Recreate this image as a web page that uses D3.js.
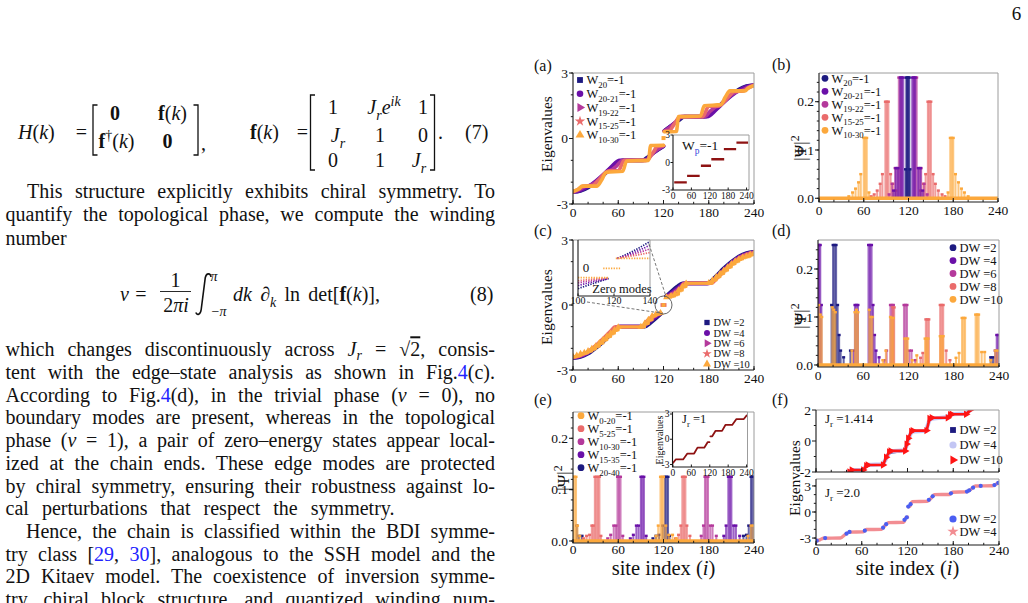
<!DOCTYPE html>
<html><head><meta charset="utf-8">
<script src="https://cdn.jsdelivr.net/npm/d3@7/dist/d3.min.js"></script>
<style>
body{margin:0;background:#fff;}
svg{display:block;}
text{font-family:"Liberation Serif","Times New Roman",serif;fill:#111;}
</style></head><body>
<svg id="c" width="1028" height="603"></svg>
<script>
// ================= DATA =================
const xTicks = [0, 60, 120, 180, 240];
const eigTicks = [-3, 0, 3];
const psiTicks = [0, 0.1, 0.2];
const fTopTicks = [-2, 0, 2];
const insetCTicks = [100, 120, 140];
const legW = ["20", "20-21", "19-22", "15-25", "10-30"];
const legDW = ["2", "4", "6", "8", "10"];
const legWE = ["0-20", "5-25", "10-30", "15-35", "20-40"];
const legFTop = ["2", "4", "10"];
const legFBot = ["2", "4"];

// (a) eigenvalues vs site index
const aW20 = [[0,-2.45],[10,-2.4],[20,-2.25],[30,-2.0],[40,-1.7],[50,-1.36],[60,-1.06],[66,-1.0],[92,-1.0],[100,-0.82],[110,-0.58],[120,-0.36],null,[121,0.36],[130,0.58],[140,0.82],[148,1.0],[174,1.0],[180,1.06],[190,1.36],[200,1.7],[210,2.0],[220,2.25],[230,2.4],[240,2.45]];
const aW2021 = [[0,-2.45],[10,-2.38],[20,-2.2],[30,-1.95],[40,-1.65],[50,-1.32],[62,-1.0],[94,-1.0],[102,-0.8],[111,-0.55],[120,-0.35],null,[121,0.35],[129,0.55],[138,0.8],[146,1.0],[178,1.0],[190,1.32],[200,1.65],[210,1.95],[220,2.2],[230,2.38],[240,2.45]];
const aW1922 = [[0,-2.45],[8,-2.35],[16,-2.2],[22,-2.15],[28,-2.05],[38,-1.75],[46,-1.5],[52,-1.42],[58,-1.25],[66,-1.0],[96,-1.0],[104,-0.75],[112,-0.5],[120,-0.33],null,[121,0.33],[128,0.5],[136,0.75],[144,1.0],[174,1.0],[182,1.25],[188,1.42],[194,1.5],[202,1.75],[212,2.05],[218,2.15],[224,2.2],[232,2.35],[240,2.45]];
const aW1525 = [[0,-2.44],[8,-2.3],[14,-2.18],[26,-2.15],[34,-1.9],[42,-1.6],[48,-1.48],[60,-1.48],[68,-1.0],[98,-1.0],[106,-0.65],[112,-0.36],[120,-0.33],null,[121,0.33],[128,0.36],[134,0.65],[142,1.0],[172,1.0],[180,1.48],[192,1.48],[198,1.6],[206,1.9],[214,2.15],[226,2.18],[232,2.3],[240,2.44]];
const aW1030 = [[0,-2.42],[8,-2.3],[12,-2.18],[32,-2.18],[38,-1.9],[44,-1.55],[66,-1.5],[71,-1.03],[100,-1.0],[103,-0.32],[120,-0.31],null,[121,0.31],[137,0.32],[140,1.0],[169,1.03],[174,1.5],[196,1.55],[202,1.9],[208,2.18],[228,2.18],[232,2.3],[240,2.42]];
const aZero = [[120, 0.02]];
const aInset = [[4,-2.17],[45,-2.17],null,[46,-1.46],[87,-1.46],null,[91,-0.35],[124,-0.35],null,[125,0.35],[167,0.35],null,[166,1.46],[206,1.46],null,[207,2.17],[245,2.17]];

// (b) |psi|^2
const bW20 = [[116,0.06],[117,0.25],[118,0.25],[119,0.25],[120,0.25],[121,0.25],[122,0.06]];
const bW2021 = [[100,0.016],[103,0.0625],[106,0.0625],[109,0.25],[111,0.25],[113,0.25],[125,0.25],[127,0.25],[129,0.25],[133,0.0625],[136,0.0625],[139,0.016]];
const bW1922 = [[94,0.008],[98,0.03],[102,0.0625],[105,0.0625],[107,0.25],[109,0.25],[111,0.25],[127,0.25],[129,0.25],[131,0.25],[134,0.0625],[137,0.0625],[141,0.03],[145,0.008]];
const bW1525 = [[70,0.004],[74,0.008],[78,0.016],[82,0.03],[85,0.05],[89,0.2],[91,0.2],[93,0.2],[96,0.05],[99,0.03],[103,0.016],[136,0.016],[140,0.03],[143,0.05],[146,0.2],[148,0.2],[150,0.2],[153,0.05],[156,0.03],[160,0.016],[165,0.008],[169,0.004]];
const bW1030 = [[40,0.004],[45,0.012],[49,0.02],[53,0.033],[56,0.05],[60,0.125],[62,0.125],[64,0.125],[67,0.012],[173,0.012],[176,0.125],[178,0.125],[180,0.125],[183,0.05],[187,0.033],[191,0.02],[195,0.012],[200,0.004]];
const zeroLine = [[0,0],[240,0]];

// (c) eigenvalues for domain-wall widths
const cDW2 = [[0,-2.45],[10,-2.4],[20,-2.25],[30,-2.0],[40,-1.7],[50,-1.35],[58,-1.08],[62,-1.0],[95,-1.0],[102,-0.85],[110,-0.62],[117,-0.4],null,[123,0.4],[130,0.62],[138,0.85],[145,1.0],[178,1.0],[182,1.08],[190,1.35],[200,1.7],[210,2.0],[220,2.25],[230,2.4],[240,2.45]];
const cDW4 = [[0,-2.44],[10,-2.37],[20,-2.21],[30,-1.96],[40,-1.65],[50,-1.3],[58,-1.04],[61,-1.0],[93,-1.0],[100,-0.82],[108,-0.6],[116,-0.4],null,[124,0.4],[132,0.6],[140,0.82],[147,1.0],[179,1.0],[182,1.04],[190,1.3],[200,1.65],[210,1.96],[220,2.21],[230,2.37],[240,2.44]];
const cDW6 = [[0,-2.43],[10,-2.35],[20,-2.18],[30,-1.92],[40,-1.6],[50,-1.25],[57,-1.02],[60,-1.0],[92,-1.0],[99,-0.78],[107,-0.56],[115,-0.39],null,[125,0.39],[133,0.56],[141,0.78],[148,1.0],[180,1.0],[183,1.02],[190,1.25],[200,1.6],[210,1.92],[220,2.18],[230,2.35],[240,2.43]];
const cDW8 = [[0,-2.41],[10,-2.32],[20,-2.15],[30,-1.88],[40,-1.55],[50,-1.2],[56,-1.01],[92,-1.0],[98,-0.74],[106,-0.52],[115,-0.38],null,[125,0.38],[134,0.52],[142,0.74],[148,1.0],[184,1.01],[190,1.2],[200,1.55],[210,1.88],[220,2.15],[230,2.32],[240,2.41]];
const cDW10 = [[0,-2.38],[5,-2.33],[10,-2.25],[15,-2.2],[20,-2.12],[25,-2.02],[30,-1.9],[35,-1.75],[40,-1.6],[45,-1.45],[50,-1.3],[55,-1.15],[60,-1.02],[90,-1.0],[95,-0.85],[100,-0.68],[105,-0.5],[110,-0.42],[116,-0.36],null,[124,0.36],[130,0.42],[135,0.5],[140,0.68],[145,0.85],[150,1.0],[180,1.02],[185,1.15],[190,1.3],[195,1.45],[200,1.6],[205,1.75],[210,1.9],[215,2.02],[220,2.12],[225,2.2],[230,2.25],[235,2.33],[240,2.38]];
const cZero = [[118.5,0],[120,0],[121.5,0]];
const ciDW2 = [[100,-0.66],[108,-0.5],[117,-0.33],null,[122,0.33],[131,0.58],[140,0.88]];
const ciDW4 = [[100,-0.56],[108,-0.44],[117,-0.33],null,[122,0.33],[131,0.52],[140,0.76]];
const ciDW6 = [[100,-0.47],[108,-0.39],[117,-0.32],null,[122,0.33],[131,0.47],[140,0.64]];
const ciDW8 = [[100,-0.4],[108,-0.35],[117,-0.31],null,[122,0.33],[131,0.42],[140,0.52]];
const ciDW10 = [[100,-0.3],[117,-0.3],null,[114,0],[124,0],null,[121,0.33],[140,0.33]];

// (d) |psi|^2 for domain walls
const dDW2 = [[18,0.125],[20,0.25],[22,0.25],[24,0.25],[26,0.125],[28,0.0625],[30,0.03],[34,0.016],[43,0.03],[229,0.016],[232,0.016]];
const dDW4 = [[0,0.25],[1.5,0.25],[3,0.25],[4.5,0.125],[47,0.03],[49,0.125],[51,0.125],[53,0.125],[67,0.25],[69,0.25],[71,0.25],[73,0.125],[75,0.0625],[77,0.03],[81,0.016],[235,0.03],[237,0.0625],[239,0.0625]];
const dDW6 = [[88,0.01],[91,0.03],[96,0.125],[98,0.125],[100,0.125],[114,0.125],[116,0.125],[118,0.125],[121,0.03],[124,0.03],[129,0.01]];
const dDW8 = [[99,0.12],[101,0.12],[136,0.015],[139,0.025],[143,0.095],[145,0.095],[147,0.095],[162,0.125],[164,0.125],[166,0.125],[170,0.03],[175,0.01]];
const dDW10 = [[1,0.125],[3,0.105],[5,0.1],[19,0.12],[21,0.115],[23,0.11],[45,0.03],[49,0.11],[51,0.115],[53,0.11],[68,0.115],[70,0.1],[72,0.1],[86,0.01],[90,0.03],[96,0.1],[98,0.098],[100,0.098],[115,0.055],[117,0.055],[119,0.055],[125,0.01],[131,0.02],[142,0.055],[144,0.055],[146,0.055],[162,0.06],[164,0.06],[166,0.06],[183,0.015],[187,0.025],[191,0.098],[193,0.098],[195,0.098],[209,0.105],[211,0.105],[213,0.105],[217,0.027],[221,0.027],[229,0.01],[235,0.03],[238,0.03]];

// (e) |psi|^2 for shifted windows, inset eigenvalues for Jr = 1
const eW020 = [[0,0.125],[2,0.125],[4,0.125],[6,0.03],[9,0.01],[110,0.01],[113,0.03],[116,0.125],[118,0.125],[120,0.125],[123,0.03],[127,0.012],[132,0.012],[137,0.005],[232,0.01],[236,0.03],[239,0.03]];
const eW525 = [[14,0.005],[18,0.01],[22,0.012],[25,0.03],[27,0.03],[29,0.125],[31,0.125],[33,0.125],[35,0.125],[37,0.01],[136,0.005],[140,0.012],[143,0.03],[145,0.125],[147,0.125],[149,0.125],[151,0.03],[155,0.01]];
const eW1030 = [[46,0.005],[50,0.012],[54,0.03],[57,0.03],[59,0.125],[61,0.125],[63,0.125],[66,0.01],[170,0.01],[173,0.03],[175,0.125],[177,0.125],[179,0.125],[182,0.03],[185,0.03],[190,0.01]];
const eW1535 = [[76,0.005],[80,0.012],[84,0.03],[87,0.03],[90,0.125],[92,0.125],[94,0.125],[97,0.01],[200,0.01],[203,0.03],[206,0.125],[208,0.125],[210,0.125],[213,0.03],[216,0.03],[221,0.01]];
const eW2040 = [[5,0.03],[8,0.01],[12,0.01],[106,0.005],[110,0.01],[114,0.012],[119,0.03],[122,0.125],[124,0.125],[126,0.125],[128,0.01],[226,0.01],[230,0.012],[233,0.03],[236,0.125],[238,0.125],[240,0.125]];
const eInset = [[0,-2.83],[9,-2.4],[33,-2.4],[47,-1.7],[69,-1.7],[80,-1.0],[102,-1.0],[113,-0.35],[119,-0.35],null,[122,0.35],[128,0.35],[139,1.0],[160,1.0],[171,1.7],[193,1.7],[207,2.4],[231,2.4],[240,2.83]];

// (f) eigenvalues at Jr = 1.414 (top) and Jr = 2.0 (bottom)
const fT2 = [[39,-2.12],[45,-1.9],[61,-1.84],[66,-1.6],[88,-1.5],[92,-1.2],[96,-0.8],[116,-0.6],[119,-0.3],[122,0.2],[126,0.58],[145,0.68],[148,1.2],[152,1.45],[174,1.58],[178,1.72],[197,1.78],[203,2.05]];
const fT4 = [[39,-2.15],[45,-1.93],[48,-1.88],[61,-1.86],[65,-1.65],[69,-1.54],[87,-1.5],[90,-1.3],[94,-0.92],[98,-0.68],[116,-0.6],[118,-0.4],[120,-0.05],[123,0.35],[126,0.6],[144,0.66],[147,1.1],[150,1.42],[172,1.55],[175,1.68],[179,1.74],[196,1.76],[200,1.9],[204,2.1]];
const fT10 = [[40,-2.2],[44,-2.0],[47,-1.87],[62,-1.87],[66,-1.6],[68,-1.55],[88,-1.55],[92,-1.05],[96,-0.7],[98,-0.64],[117,-0.64],[119,-0.2],[121,0.18],[125,0.62],[127,0.67],[145,0.67],[149,1.45],[152,1.5],[173,1.5],[176,1.7],[178,1.73],[197,1.73],[202,2.0],[205,2.15]];
const fB4 = [[0,-3.35],[5,-3.2],[10,-3.02],[32,-3.0],[38,-2.6],[44,-2.32],[62,-2.28],[66,-2.02],[86,-2.0],[90,-1.6],[95,-1.22],[115,-1.2],[118,-0.65],[120,-0.6],null,[121,0.6],[123,0.65],[126,1.2],[146,1.22],[151,1.6],[155,2.0],[175,2.02],[179,2.28],[197,2.32],[203,2.6],[209,3.0],[231,3.02],[236,3.2],[240,3.4]];
const fB2 = [[1,-3.3],[12,-3.0],[40,-2.5],[44,-2.3],[64,-2.15],[88,-1.8],[92,-1.4],[116,-0.9],[119,-0.62],[121,0.62],[124,0.9],[148,1.4],[153,1.8],[177,2.15],[198,2.35],[201,2.5],[206,2.8],[216,3.0],[234,3.1],[239,3.35]];

// ================= STYLE =================
const C = {navy:'#1d1a80', purple:'#6a10a8', magenta:'#b4399b', salmon:'#ea6b6b', orange:'#fca83c',
           dred:'#8e1212', lav:'#c3c6f4', red:'#ff1414', blue:'#4a5ef2', pink:'#f28d92', link:'#2222ff'};
const svg = d3.select('#c');
let clipN = 0;
const fmtInt = d => String(d);
const fmt1 = d3.format('.1f');

// rich text helper
const it = s => ({t:s,i:1}), bd = s => ({t:s,b:1}), sb = s => ({t:s,sub:1}), isb = s => ({t:s,sub:1,i:1}),
      sp = s => ({t:s,sup:1}), isp = s => ({t:s,sup:1,i:1}), lk = s => ({t:s,c:C.link});
function rich(parent, x, y, segs, size, opt = {}) {
  const t = parent.append('text').attr('x', x).attr('y', y).attr('font-size', size).style('white-space', 'pre');
  if (opt.anchor) t.attr('text-anchor', opt.anchor);
  if (opt.transform) t.attr('transform', opt.transform);
  let shift = 0;
  const subK = opt.subK || 0.3;
  segs.forEach(s => {
    if (typeof s === 'string') s = {t: s};
    const tsp = t.append('tspan').text(s.t);
    const target = s.sub ? size * subK : s.sup ? -size * 0.4 : 0;
    if (target !== shift) { tsp.attr('dy', target - shift); shift = target; }
    if (s.sub || s.sup) tsp.attr('font-size', size * 0.7);
    if (s.i) tsp.attr('font-style', 'italic');
    if (s.b) tsp.attr('font-weight', 'bold');
    if (s.c) tsp.style('fill', s.c);
    if (s.ol) tsp.style('text-decoration', 'overline');
  });
  return t;
}
function justify(t, width) {
  const len = t.node().getComputedTextLength();
  const n = (t.text().match(/ /g) || []).length;
  if (n > 0) t.style('word-spacing', ((width - len) / n) + 'px');
}

// ================= LEFT TEXT COLUMN =================
const tg = svg.append('g');
const FS = 20;
rich(tg, 1016.5, 20, ['6'], 19, {anchor: 'middle'});

// Eq. (7)
rich(tg, 18, 139, [it('H'), '(', it('k'), ')'], FS);
rich(tg, 81.5, 139, ['='], FS, {anchor: 'middle'});
tg.append('path').attr('d', 'M97.5,105H93V155H97.5M193.5,105H198V155H193.5').attr('fill', 'none').attr('stroke', '#111').attr('stroke-width', 1.3);
rich(tg, 115, 120, [bd('0')], FS, {anchor: 'middle'});
rich(tg, 172.5, 120, [bd('f'), '(', it('k'), ')'], FS, {anchor: 'middle'});
rich(tg, 116.5, 148, [bd('f'), sp('†'), '(', it('k'), ')'], FS, {anchor: 'middle'});
rich(tg, 167.5, 148, [bd('0')], FS, {anchor: 'middle'});
rich(tg, 201, 150, [','], FS);
rich(tg, 250, 139, [bd('f'), '(', it('k'), ')'], FS);
rich(tg, 302.5, 139, ['='], FS, {anchor: 'middle'});
tg.append('path').attr('d', 'M315,95H310.5V170H315M430,95H434.5V170H430').attr('fill', 'none').attr('stroke', '#111').attr('stroke-width', 1.3);
rich(tg, 333, 114, ['1'], FS, {anchor: 'middle'});
rich(tg, 384, 114, [it('J'), isb('r'), it('e'), isp('ik')], FS, {anchor: 'middle'});
rich(tg, 423, 114, ['1'], FS, {anchor: 'middle'});
rich(tg, 338, 142, [it('J'), isb('r')], FS, {anchor: 'middle'});
rich(tg, 380, 142, ['1'], FS, {anchor: 'middle'});
rich(tg, 423, 142, ['0'], FS, {anchor: 'middle'});
rich(tg, 333, 167, ['0'], FS, {anchor: 'middle'});
rich(tg, 380, 167, ['1'], FS, {anchor: 'middle'});
rich(tg, 419, 167, [it('J'), isb('r')], FS, {anchor: 'middle'});
rich(tg, 438, 139, ['.'], FS);
rich(tg, 465, 139, ['(7)'], FS);

// Eq. (8)
rich(tg, 120, 301, [it('ν')], FS);
rich(tg, 141, 301, ['='], FS, {anchor: 'middle'});
rich(tg, 175.5, 287, ['1'], FS, {anchor: 'middle'});
tg.append('line').attr('x1', 160).attr('x2', 191).attr('y1', 291.5).attr('y2', 291.5).attr('stroke', '#111').attr('stroke-width', 0.9);
rich(tg, 176, 312, ['2', it('πi')], FS, {anchor: 'middle'});
tg.append('path').attr('d', 'M211,277C210.5,273 206.5,272.5 205.3,277.5L201.2,309.5C200.5,315 197,315.5 195.8,312.5').attr('fill', 'none').attr('stroke', '#111').attr('stroke-width', 1.6);
rich(tg, 214, 281, [it('π')], 14, {anchor: 'middle'});
rich(tg, 219, 316, ['−', it('π')], 14, {anchor: 'middle'});
justify(rich(tg, 233, 301, [it('dk'), ' ∂', isb('k'), ' ln det[', bd('f'), '(', it('k'), ')],'], FS), 147);
rich(tg, 470, 301, ['(8)'], FS);

const textLines = [
  {x: 27, y: 197.7, w: 468, s: ['This structure explicitly exhibits chiral symmetry. To']},
  {x: 5.5, y: 221, w: 489.5, s: ['quantify the topological phase, we compute the winding']},
  {x: 5.5, y: 244.5, w: 0, s: ['number']},
  {x: 5.5, y: 356.3, w: 489.5, s: ['which changes discontinuously across ', it('J'), isb('r'), ' = √', {t: '2', ol: 1}, ', consis-']},
  {x: 5.5, y: 379, w: 489.5, s: ['tent with the edge–state analysis as shown in Fig.', lk('4'), '(c).']},
  {x: 5.5, y: 401.7, w: 489.5, s: ['According to Fig.', lk('4'), '(d), in the trivial phase (', it('ν'), ' = 0), no']},
  {x: 5.5, y: 424.4, w: 489.5, s: ['boundary modes are present, whereas in the topological']},
  {x: 5.5, y: 447.1, w: 489.5, s: ['phase (', it('ν'), ' = 1), a pair of zero–energy states appear local-']},
  {x: 5.5, y: 469.8, w: 489.5, s: ['ized at the chain ends. These edge modes are protected']},
  {x: 5.5, y: 492.5, w: 489.5, s: ['by chiral symmetry, ensuring their robustness against lo-']},
  {x: 5.5, y: 515.2, w: 389, s: ['cal perturbations that respect the symmetry.']},
  {x: 26, y: 537.9, w: 469, s: ['Hence, the chain is classified within the BDI symme-']},
  {x: 5.5, y: 560.6, w: 489.5, s: ['try class [', lk('29'), ', ', lk('30'), '], analogous to the SSH model and the']},
  {x: 5.5, y: 583.3, w: 489.5, s: ['2D Kitaev model. The coexistence of inversion symme-']},
  {x: 5.5, y: 606, w: 489.5, s: ['try, chiral block structure, and quantized winding num-']}
];
textLines.forEach(l => { const t = rich(tg, l.x, l.y, l.s, FS, {subK: 0.2}); if (l.w) justify(t, l.w); });

// ================= FIGURE HELPERS =================
function makePanel(o) {
  const p = Object.assign({}, o);
  p.x = d3.scaleLinear().domain(o.xd).range([o.x0, o.x1]);
  p.y = d3.scaleLinear().domain(o.yd).range([o.y1, o.y0]);
  p.g = svg.append('g');
  const id = 'clip' + (clipN++);
  p.g.append('clipPath').attr('id', id).append('rect').attr('x', o.x0).attr('y', o.y0).attr('width', o.x1 - o.x0).attr('height', o.y1 - o.y0);
  if (o.bg) p.g.append('rect').attr('x', o.x0).attr('y', o.y0).attr('width', o.x1 - o.x0).attr('height', o.y1 - o.y0).attr('fill', '#fff');
  p.plot = p.g.append('g').attr('clip-path', `url(#${id})`);
  return p;
}
function axes(p, o) {
  const g = p.g.append('g');
  const tl = o.tl || 4, fs = o.fs || 13.5;
  g.append('path').attr('d', `M${p.x0},${p.y0}H${p.x1}V${p.y1}`).attr('fill', 'none').attr('stroke', '#9c9c9c').attr('stroke-width', 1);
  g.append('path').attr('d', `M${p.x0},${p.y0}V${p.y1}H${p.x1}`).attr('fill', 'none').attr('stroke', '#1a1a1a').attr('stroke-width', 1.1);
  const tick = (x1, y1, x2, y2) => g.append('line').attr('x1', x1).attr('y1', y1).attr('x2', x2).attr('y2', y2).attr('stroke', '#1a1a1a').attr('stroke-width', 1);
  (o.xMinor || []).forEach(v => tick(p.x(v), p.y1, p.x(v), p.y1 - tl * 0.55));
  o.xt.forEach(v => tick(p.x(v), p.y1, p.x(v), p.y1 - tl));
  (o.yMinor || []).forEach(v => tick(p.x0, p.y(v), p.x0 - tl * 0.55, p.y(v)));
  o.yt.forEach(v => tick(p.x0, p.y(v), p.x0 - tl, p.y(v)));
  if (o.xLab !== false) o.xt.forEach(v => g.append('text').attr('x', p.x(v)).attr('y', p.y1 + (o.xdy || 13)).attr('text-anchor', 'middle').attr('font-size', fs).text(fmtInt(v)));
  if (o.yLab !== false) o.yt.forEach(v => g.append('text').attr('x', p.x0 - (o.ydx || 5)).attr('y', p.y(v) + fs * 0.34).attr('text-anchor', 'end').attr('font-size', fs).text((o.yFmt || fmtInt)(v)));
}
const lineGen = (p, curve) => d3.line().defined(d => d).x(d => p.x(d[0])).y(d => p.y(d[1])).curve(curve || d3.curveMonotoneX);
function line(p, data, color, w, opt = {}) {
  return p.plot.append('path').datum(data).attr('d', lineGen(p, opt.curve)(data)).attr('fill', 'none').attr('stroke', color)
    .attr('stroke-width', w).attr('stroke-linejoin', 'round').attr('stroke-linecap', opt.cap || 'round').attr('stroke-dasharray', opt.dash || null).attr('opacity', opt.op || 1);
}
function marks(p, data, color, type, size, rot) {
  p.plot.selectAll(null).data(data.filter(d => d)).join('path')
    .attr('transform', d => `translate(${p.x(d[0])},${p.y(d[1])})${rot ? ' rotate(' + rot + ')' : ''}`)
    .attr('d', d3.symbol().type(type).size(size)()).attr('fill', color);
}
function bars(p, data, color) {
  const w = p.x(2.7) - p.x(0);
  const gg = p.plot.append('g');
  gg.selectAll(null).data(data).join('rect').attr('x', d => p.x(d[0]) - w / 2).attr('width', w)
    .attr('y', d => p.y(d[1])).attr('height', d => p.y(0) - p.y(d[1])).attr('fill', color).attr('fill-opacity', 0.66);
  gg.selectAll(null).data(data).join('rect').attr('x', d => p.x(d[0]) - w / 2 - 0.5).attr('width', w + 1)
    .attr('y', d => p.y(d[1]) - 1.2).attr('height', 2.4).attr('fill', color);
}
function legend(g, x, y, step, items, fs) {
  items.forEach((itm, k) => {
    const yy = y + k * step;
    g.append('path').attr('transform', `translate(${x},${yy})${itm.rot ? ' rotate(' + itm.rot + ')' : ''}`)
      .attr('d', d3.symbol().type(itm.sym).size(itm.size || 34)()).attr('fill', itm.color);
    rich(g, x + 6.5, yy + fs * 0.35, itm.label, fs);
  });
}
function ylab(x, y, segs, fs) { rich(svg, x, y, segs, fs, {anchor: 'middle', transform: `rotate(-90,${x},${y})`}); }
const minorX = d3.scaleLinear().domain([0, 240]).ticks(12);
const minorEig = d3.range(-3, 3.01, 1);
const minorPsi = d3.range(0, 0.26, 0.02);
const SQ = d3.symbolSquare, CI = d3.symbolCircle, TR = d3.symbolTriangle, ST = d3.symbolStar;

// ================= (a) =================
const pa = makePanel({x0: 573, x1: 754, y0: 73, y1: 204, xd: [0, 240], yd: [-3, 3]});
[[aW20, C.navy], [aW2021, C.purple], [aW1922, C.magenta], [aW1525, C.salmon], [aW1030, C.orange]].forEach(([d, c]) => line(pa, d, c, 3.6));
marks(pa, aZero, C.orange, SQ, 16);
axes(pa, {xt: xTicks, xMinor: minorX, yt: eigTicks, yMinor: minorEig});
legend(pa.g, 580, 80, 13.75, legW.map((s, k) => ({sym: [SQ, CI, TR, ST, TR][k], rot: k === 2 ? 90 : 0, color: [C.navy, C.purple, C.magenta, C.salmon, C.orange][k], label: ['W', sb(s), '=-1']})), 12.5);
const pai = makePanel({x0: 673, x1: 749, y0: 135, y1: 190, xd: [0, 248], yd: [-3, 3], bg: true});
line(pai, aInset, C.dred, 2.4, {curve: d3.curveLinear, cap: 'butt'});
axes(pai, {xt: xTicks, yt: eigTicks, tl: 2.5, fs: 9.5, xdy: 9, ydx: 3});
rich(pai.g, 682, 150, ['W', {t: 'p', sub: 1, c: '#3344dd'}, '=-1'], 13.5);
rich(svg, 534, 71, ['(a)'], 16);
ylab(552, 134, ['Eigenvalues'], 15.5);

// ================= (b) =================
const pb = makePanel({x0: 819, x1: 998, y0: 73, y1: 202, xd: [0, 240], yd: [-0.0077, 0.2594]});
[[bW1030, C.orange], [bW1525, C.salmon], [bW1922, C.magenta], [bW2021, C.purple], [bW20, C.navy]].forEach(([d, c]) => bars(pb, d, c));
line(pb, zeroLine, C.orange, 3.5, {curve: d3.curveLinear, cap: 'butt'});
axes(pb, {xt: xTicks, xMinor: minorX, yt: psiTicks, yMinor: minorPsi, yFmt: fmt1});
legend(pb.g, 825, 78.3, 13, legW.map((s, k) => ({sym: CI, size: 36, color: [C.navy, C.purple, C.magenta, C.salmon, C.orange][k], label: ['W', sb(s), '=-1']})), 12.5);
rich(svg, 772, 70, ['(b)'], 16);
ylab(806, 148, ['|Ψ|', sp('2')], 17);

// ================= (c) =================
const pc = makePanel({x0: 573, x1: 754, y0: 240, y1: 370, xd: [0, 240], yd: [-3, 3]});
[[cDW2, C.navy], [cDW4, C.purple], [cDW6, C.magenta], [cDW8, C.salmon]].forEach(([d, c]) => line(pc, d, c, 3.6));
line(pc, cDW10, C.orange, 3, {curve: d3.curveStepAfter, cap: 'butt'});
marks(pc, cDW10, C.orange, TR, 20);
marks(pc, cZero, C.salmon, SQ, 14);
marks(pc, [cZero[1]], C.orange, SQ, 14);
axes(pc, {xt: xTicks, xMinor: minorX, yt: eigTicks, yMinor: minorEig});
const cx0 = pc.x(120), cy0 = pc.y(0);
pc.g.append('ellipse').attr('cx', cx0).attr('cy', cy0).attr('rx', 8.5).attr('ry', 9).attr('fill', 'none').attr('stroke', '#555').attr('stroke-width', 0.9);
legend(pc.g, 707, 322.5, 10.4, legDW.map((s, k) => ({sym: [SQ, CI, TR, ST, TR][k], rot: k === 2 ? 90 : 0, size: 28, color: [C.navy, C.purple, C.magenta, C.salmon, C.orange][k], label: ['DW =' + s]})), 10.5);
const pci = makePanel({x0: 578, x1: 650, y0: 240, y1: 296, xd: [100, 140], yd: [-0.9, 0.93], bg: true});
[[ciDW2, C.navy], [ciDW4, C.purple], [ciDW6, C.magenta], [ciDW8, C.salmon], [ciDW10, C.orange]].forEach(([d, c]) => line(pci, d, c, 1.7, {dash: '1.3,1.3', cap: 'butt'}));
axes(pci, {xt: insetCTicks, yt: [], tl: 2.5, fs: 10, xdy: 8, yLab: false});
rich(pci.g, 586, 272, ['0'], 13, {anchor: 'middle'});
rich(pci.g, 622, 293, ['Zero modes'], 12.5, {anchor: 'middle'});
svg.append('path').attr('d', `M${pci.x0 + 9},${pci.y1 + 6}L${cx0 - 3},${cy0 + 8}M${pci.x1 - 1},${pci.y0 + 4}L${cx0 + 2.5},${cy0 - 8.5}`)
  .attr('stroke', '#666').attr('stroke-width', 0.9).attr('stroke-dasharray', '3,2').attr('fill', 'none');
rich(svg, 534, 236, ['(c)'], 16);
ylab(552, 307, ['Eigenvalues'], 15.5);

// ================= (d) =================
const pd = makePanel({x0: 818, x1: 999, y0: 240, y1: 367, xd: [0, 240], yd: [-0.0042, 0.2604]});
[[dDW2, C.navy], [dDW4, C.purple], [dDW6, C.magenta], [dDW8, C.salmon], [dDW10, C.orange]].forEach(([d, c]) => bars(pd, d, c));
line(pd, zeroLine, C.orange, 3.5, {curve: d3.curveLinear, cap: 'butt'});
axes(pd, {xt: xTicks, xMinor: minorX, yt: psiTicks, yMinor: minorPsi, yFmt: fmt1});
legend(pd.g, 953, 247.7, 12.9, legDW.map((s, k) => ({sym: CI, size: 36, color: [C.navy, C.purple, C.magenta, C.salmon, C.orange][k], label: ['DW =' + s]})), 12.5);
rich(svg, 772, 236, ['(d)'], 16);
ylab(806, 316, ['|Ψ|', sp('2')], 17);

// ================= (e) =================
const pe = makePanel({x0: 573, x1: 754, y0: 412, y1: 543, xd: [0, 240], yd: [-0.0039, 0.2512]});
[[eW2040, C.navy], [eW1535, C.purple], [eW1030, C.magenta], [eW525, C.salmon], [eW020, C.orange]].forEach(([d, c]) => bars(pe, d, c));
line(pe, zeroLine, C.orange, 3.5, {curve: d3.curveLinear, cap: 'butt'});
axes(pe, {xt: xTicks, xMinor: minorX, yt: psiTicks, yMinor: minorPsi, yFmt: fmt1, xdy: 11});
legend(pe.g, 581, 415.7, 13, legWE.map((s, k) => ({sym: CI, size: 36, color: [C.orange, C.salmon, C.magenta, C.purple, C.navy][k], label: ['W', sb(s), '=-1']})), 12.5);
const pei = makePanel({x0: 672.5, x1: 747.5, y0: 412, y1: 467, xd: [-1.5, 243], yd: [-3.3, 3.24], bg: true});
line(pei, eInset, C.dred, 1.8, {curve: d3.curveLinear});
axes(pei, {xt: xTicks, yt: eigTicks, tl: 2.5, fs: 9.5, xdy: 9, ydx: 3});
rich(pei.g, 682, 423, ['J', sb('r'), ' =1'], 12.5);
rich(svg, 534, 405, ['(e)'], 16);
ylab(569, 478, ['|Ψ|', sp('2')], 17);
ylab(663, 440, ['Eigenvalues'], 10);
rich(svg, 663.5, 575, ['site index (', it('i'), ')'], 20.5, {anchor: 'middle'});

// ================= (f) =================
const pf1 = makePanel({x0: 816, x1: 999, y0: 410, y1: 472, xd: [0, 240], yd: [-2, 2]});
line(pf1, fT2, C.navy, 2.2);
line(pf1, fT4, C.lav, 4.2);
line(pf1, fT10, C.red, 2.6, {curve: d3.curveLinear});
marks(pf1, fT10, C.red, TR, 24, 90);
axes(pf1, {xt: xTicks, xMinor: minorX, yt: fTopTicks, yMinor: [-1, 1], xLab: false});
rich(pf1.g, 825, 423, ['J', sb('r'), ' =1.414'], 13);
legend(pf1.g, 953, 430, 15, legFTop.map((s, k) => ({sym: [SQ, CI, TR][k], rot: k === 2 ? 90 : 0, size: k === 1 ? 40 : 34, color: [C.navy, C.lav, C.red][k], label: ['DW =' + s]})), 12.5);
const pf2 = makePanel({x0: 816, x1: 999, y0: 479, y1: 545, xd: [0, 240], yd: [-3.8, 3.8]});
line(pf2, fB4, C.pink, 3.4);
marks(pf2, fB2, C.blue, CI, 14);
axes(pf2, {xt: xTicks, xMinor: minorX, yt: eigTicks, yMinor: minorEig, xdy: 10});
rich(pf2.g, 825, 497, ['J', sb('r'), ' =2.0'], 13);
legend(pf2.g, 953, 519, 12.5, legFBot.map((s, k) => ({sym: [CI, ST][k], size: 40, color: [C.blue, C.pink][k], label: ['DW =' + s]})), 12.5);
rich(svg, 772, 405, ['(f)'], 16);
ylab(800, 478, ['Eigenvalues'], 15.5);
rich(svg, 907.5, 575, ['site index (', it('i'), ')'], 20.5, {anchor: 'middle'});
</script>
</body></html>
